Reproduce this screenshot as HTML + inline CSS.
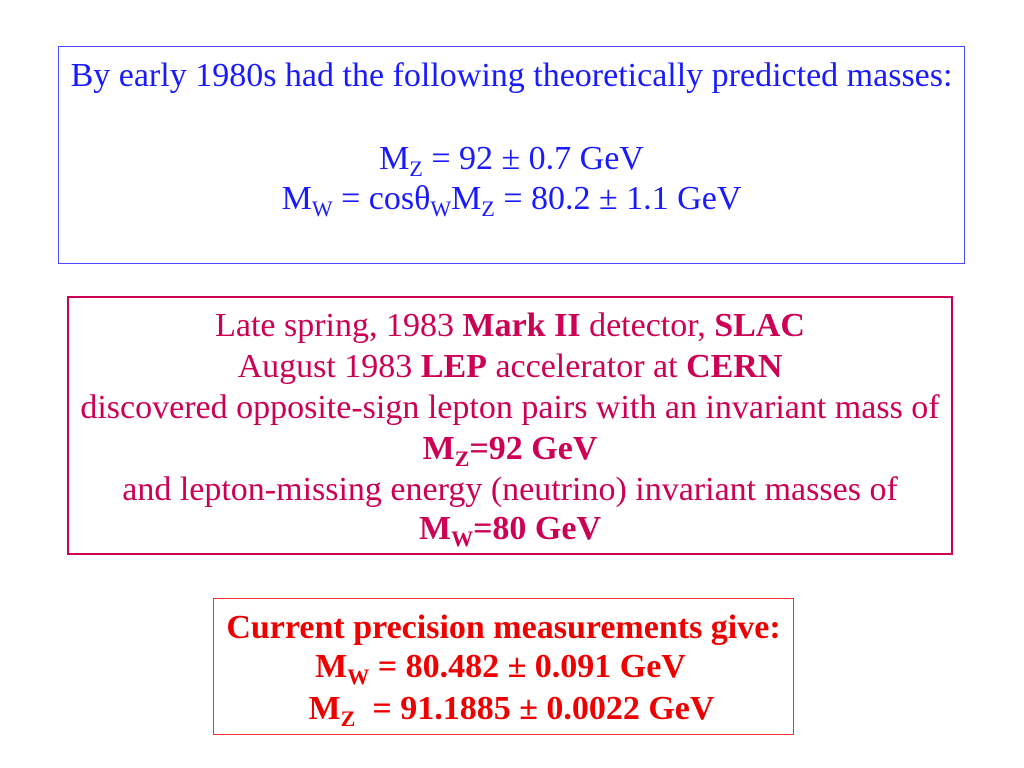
<!DOCTYPE html>
<html><head><meta charset="utf-8"><style>
body{margin:0;width:1024px;height:768px;background:#fff;position:relative;overflow:hidden;font-family:"Liberation Serif",serif;font-size:34px;}
.box{position:absolute;box-sizing:border-box;}
.ln{position:absolute;left:0;right:0;text-align:center;white-space:nowrap;line-height:34px;}
sub{font-size:22px;vertical-align:-7px;line-height:0;}
</style></head><body>
<div class="box" style="left:58px;top:46px;width:907px;height:218px;border:1.5px solid #4a4aff;color:#1a1aff;">
 <div class="ln" style="top:12px">By early 1980s had the following theoretically predicted masses:</div>
 <div class="ln" style="top:95px">M<sub>Z</sub> = 92 ± 0.7 GeV</div>
 <div class="ln" style="top:135px">M<sub>W</sub> = cosθ<sub>W</sub>M<sub>Z</sub> = 80.2 ± 1.1 GeV</div>
</div>
<div class="box" style="left:67px;top:296px;width:886px;height:259px;border:2px solid #cc0055;color:#cc0055;">
 <div class="ln" style="top:11px">Late spring, 1983 <b>Mark II</b> detector, <b>SLAC</b></div>
 <div class="ln" style="top:52px">August 1983 <b>LEP</b> accelerator at <b>CERN</b></div>
 <div class="ln" style="top:93px">discovered opposite-sign lepton pairs with an invariant mass of</div>
 <div class="ln" style="top:134px"><b>M<sub>Z</sub>=92 GeV</b></div>
 <div class="ln" style="top:175px">and lepton-missing energy (neutrino) invariant masses of</div>
 <div class="ln" style="top:214px"><b>M<sub>W</sub>=80 GeV</b></div>
</div>
<div class="box" style="left:213px;top:598px;width:581px;height:137px;border:1.5px solid #ee3333;color:#ee0000;font-weight:bold;">
 <div class="ln" style="top:12px">Current precision measurements give:</div>
 <div class="ln" style="top:51px;left:-6px">M<sub>W</sub> = 80.482 ± 0.091 GeV</div>
 <div class="ln" style="top:93px;left:16px">M<sub>Z</sub>&nbsp; = 91.1885 ± 0.0022 GeV</div>
</div>
</body></html>
